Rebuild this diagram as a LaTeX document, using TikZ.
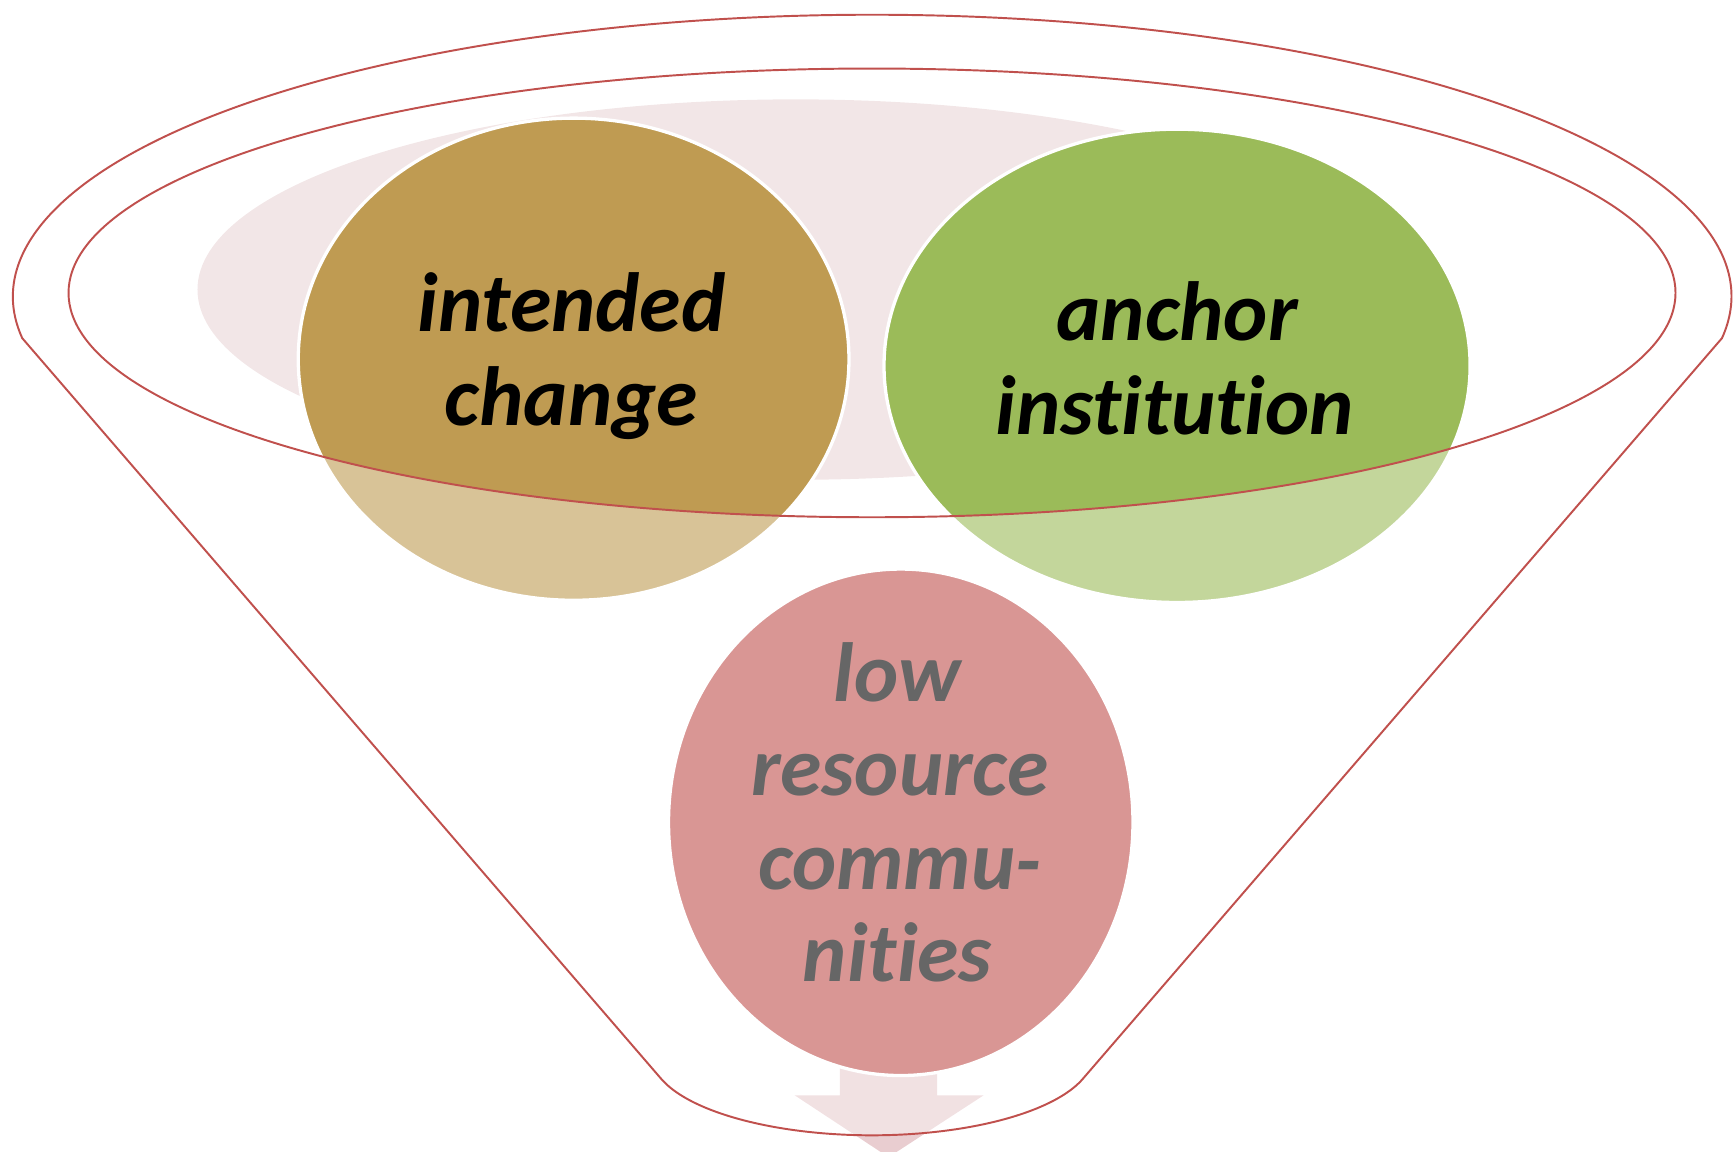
\documentclass[tikz,border=0pt]{standalone}
\usepackage{fontspec}
\setmainfont{Carlito}[Ligatures=CommonOff]
\usetikzlibrary{shapes.geometric}
\definecolor{rimred}{RGB}{192,80,77}
\definecolor{brownc}{RGB}{191,155,82}
\definecolor{greenc}{RGB}{155,187,89}
\definecolor{pinkc}{RGB}{192,80,77}
\definecolor{arrowc}{RGB}{233,205,208}
\definecolor{bgpink}{RGB}{242,230,231}
\begin{document}
\begin{tikzpicture}[x=0.01cm,y=0.01cm,
  bubble/.style={ellipse, draw=white, line width=0.85pt, inner sep=0pt, outer sep=0pt},
  lbl/.style={font=\fontsize{21.6pt}{24.2pt}\selectfont\bfseries\itshape, anchor=base, inner sep=0pt, text=black},
  rim/.style={draw=rimred, line width=0.5pt}]
\useasboundingbox (0,0) rectangle (1568,-1042);
\clip (0,0) rectangle (1568,-1042);
% light background ellipse
\node[bubble, fill=bgpink, draw=none, minimum width=10.82cm, minimum height=3.44cm] (bg) at (720,-262) {};
% arrow below
\fill[arrowc] (760,-960) -- (848,-960) -- (848,-991) -- (890,-991) -- (804,-1047) -- (719,-991) -- (760,-991) -- cycle;
% circles
\node[bubble, fill=brownc, minimum width=4.98cm, minimum height=4.36cm] (ic) at (519,-325) {};
\node[bubble, fill=greenc, minimum width=5.30cm, minimum height=4.28cm] (ai) at (1065,-331) {};
\node[bubble, fill=pinkc, minimum width=4.20cm, minimum height=4.58cm] (lr) at (815,-744) {};
% labels
\node[lbl] (ic1) at (517,-300) {intended};
\node[lbl] (ic2) at (517,-385) {change};
\node[lbl] (ai1) at (1065,-308) {anchor};
\node[lbl] (ai2) at (1063,-393) {institution};
\node[lbl] (lr1) at (812,-635) {low};
\node[lbl] (lr2) at (814,-720) {resource};
\node[lbl] (lr3) at (814,-805) {commu-};
\node[lbl] (lr4) at (812,-888) {nities};
% funnel body overlay
\path[fill=white, fill opacity=0.4, even odd rule]
  (1558,-306) arc[start angle=-8.5, end angle=188.5, x radius=777.5, y radius=255]
  -- (599,-977) arc[start angle=198.2, end angle=341.8, x radius=200, y radius=73] -- cycle
  (789,-265) ellipse [x radius=727, y radius=203];
% funnel outlines
\draw[rim] (1558,-306) arc[start angle=-8.5, end angle=188.5, x radius=777.5, y radius=255]
  -- (599,-977) arc[start angle=198.2, end angle=341.8, x radius=200, y radius=73] -- cycle;
\draw[rim] (789,-265) ellipse [x radius=727, y radius=203];
\end{tikzpicture}
\end{document}
